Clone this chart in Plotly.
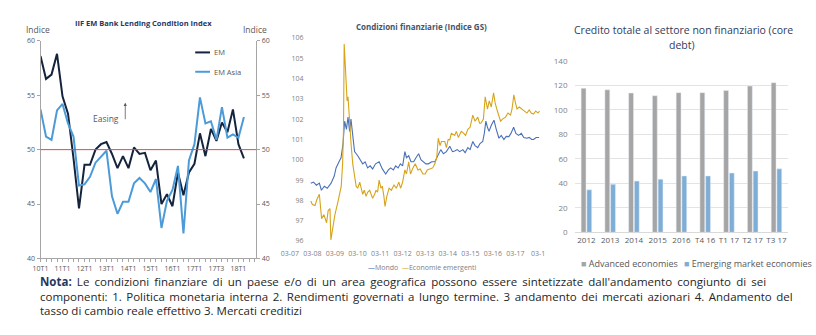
import plotly.graph_objects as go

W, H = 816, 335
FONT = "Open Sans"
GREY_TXT = "#595959"
AXIS_GREY = "#A6A6A6"

# ---------------- IIF EM Bank Lending Condition Index ----------------
blc_idx = list(range(38))
blc_em = [58.6, 56.5, 56.9, 58.8, 54.9, 53.3, 49.2, 44.6, 48.6, 48.6,
          50.0, 50.5, 50.7, 49.6, 48.3, 49.4, 48.3, 50.2, 49.6, 49.7,
          48.1, 49.0, 45.0, 45.9, 44.8, 47.9, 45.8, 47.9, 48.7, 51.5,
          49.4, 51.9, 50.8, 52.5, 51.6, 53.7, 50.5, 49.2]
blc_em_asia = [53.7, 51.2, 50.9, 53.6, 54.2, 52.4, 51.2, 46.7, 46.8, 47.5,
               48.8, 49.4, 49.9, 45.7, 44.1, 45.2, 45.2, 46.9, 47.4, 46.9,
               46.1, 47.3, 42.8, 45.3, 46.3, 48.5, 42.3, 49.0, 50.5, 54.8,
               52.4, 52.6, 50.9, 53.9, 51.1, 51.4, 51.1, 53.0]
blc_tick_pos = [0, 4, 8, 12, 16, 20, 24, 28, 32, 36]
blc_tick_text = ["10T1", "11T1", "12T1", "13T1", "14T1", "15T1", "16T1",
                 "17T1", "17T3", "18T1"]
blc_neutral = 50

# ---------------- Condizioni finanziarie (Indice GS) ----------------
gs_world_t = [
    2007.93, 2008.05, 2008.18, 2008.31, 2008.40, 2008.53, 2008.66, 2008.83,
    2008.97, 2009.05, 2009.18, 2009.27, 2009.36, 2009.43, 2009.51, 2009.58,
    2009.65, 2009.71, 2009.79, 2009.87, 2010.01, 2010.12, 2010.23, 2010.34,
    2010.45, 2010.56, 2010.67, 2010.80, 2010.96, 2011.10, 2011.25, 2011.37,
    2011.47, 2011.59, 2011.69, 2011.80, 2011.90, 2012.00, 2012.10, 2012.17,
    2012.27, 2012.37, 2012.49, 2012.59, 2012.71, 2012.81, 2012.93, 2013.03,
    2013.14, 2013.29, 2013.43, 2013.55, 2013.69, 2013.81, 2013.94, 2014.09,
    2014.21, 2014.31, 2014.42, 2014.53, 2014.67, 2014.77, 2014.89, 2014.99,
    2015.11, 2015.21, 2015.33, 2015.43, 2015.55, 2015.62, 2015.69, 2015.76,
    2015.83, 2015.93, 2016.05, 2016.15, 2016.27, 2016.37, 2016.49, 2016.59,
    2016.71, 2016.80, 2016.92, 2017.02, 2017.14, 2017.26, 2017.37, 2017.51,
    2017.61, 2017.72, 2017.80, 2017.92, 2018.05]
gs_world = [
    98.84, 98.9, 98.75, 98.85, 98.5, 98.7, 98.6, 98.85,
    99.2, 99.6, 99.9, 100.1, 100.8, 101.9, 101.5, 102.1,
    101.4, 102.0, 101.2, 100.4, 100.2, 100.0, 99.8, 99.9,
    99.6, 99.7, 99.55, 99.8, 99.9, 99.55, 99.3, 99.5,
    99.6, 99.5, 99.7, 99.6, 99.8, 99.7, 100.4, 100.1,
    100.2, 99.9, 99.9, 100.1, 100.3, 100.0, 99.9, 99.8,
    99.8, 99.9, 99.9, 100.2, 100.5, 100.3, 100.4, 100.67,
    100.4, 100.43, 100.5, 100.4, 100.5, 100.35, 100.6, 100.5,
    100.9, 100.7, 100.6, 100.8, 100.9, 101.3, 101.9, 101.6,
    101.4, 101.7, 101.95, 101.5, 101.06, 101.2, 101.0, 101.15,
    101.14, 101.3, 101.6, 101.3, 101.2, 101.3, 101.1, 101.06,
    101.1, 101.0, 101.0, 101.1, 101.1]

gs_em_t = [
    2007.93, 2008.00, 2008.12, 2008.20, 2008.31, 2008.41, 2008.51, 2008.63,
    2008.70, 2008.78, 2008.82, 2008.90, 2009.00, 2009.14, 2009.28, 2009.34,
    2009.38, 2009.41, 2009.45, 2009.50, 2009.54, 2009.58, 2009.65, 2009.72,
    2009.79, 2009.87, 2009.94, 2010.01, 2010.10, 2010.23, 2010.30, 2010.38,
    2010.45, 2010.54, 2010.67, 2010.76, 2010.82, 2010.89, 2010.96, 2011.04,
    2011.10, 2011.17, 2011.22, 2011.30, 2011.40, 2011.50, 2011.62, 2011.72,
    2011.83, 2011.91, 2012.00, 2012.10, 2012.17, 2012.27, 2012.35, 2012.46,
    2012.56, 2012.68, 2012.78, 2012.90, 2013.00, 2013.09, 2013.21, 2013.33,
    2013.43, 2013.51, 2013.58, 2013.66, 2013.72, 2013.87, 2013.94, 2014.02,
    2014.09, 2014.16, 2014.31, 2014.38, 2014.47, 2014.60, 2014.71, 2014.79,
    2014.89, 2014.99, 2015.11, 2015.21, 2015.33, 2015.41, 2015.47, 2015.58,
    2015.66, 2015.71, 2015.76, 2015.84, 2015.93, 2016.03, 2016.10, 2016.20,
    2016.27, 2016.34, 2016.43, 2016.56, 2016.67, 2016.78, 2016.85, 2016.93,
    2017.00, 2017.07, 2017.17, 2017.29, 2017.39, 2017.51, 2017.61, 2017.70,
    2017.80, 2017.90, 2018.00, 2018.07]
gs_em = [
    97.97, 97.8, 97.75, 98.05, 98.3, 97.1, 97.3, 96.9,
    97.5, 97.6, 96.06, 96.6, 97.3, 97.97, 98.7, 99.8,
    101.5, 105.7, 104.8, 104.2, 102.9, 103.1, 101.7, 100.7,
    99.8, 99.3, 98.7, 98.6, 98.9, 98.3, 98.5, 98.2,
    98.4, 98.5, 98.1, 98.3, 98.5, 98.4, 99.0, 98.6,
    98.7, 98.2, 97.7, 98.2, 98.6, 98.5, 98.76, 98.6,
    98.9, 98.6, 98.9, 99.5, 99.3, 99.9, 99.3, 99.6,
    99.8, 99.5, 99.55, 99.3, 99.3, 99.5, 99.55, 99.6,
    99.8, 100.1, 101.06, 100.7, 100.9, 100.9, 100.6, 101.0,
    100.98, 101.3, 101.2, 101.4, 101.1, 101.4, 101.3, 101.2,
    101.5, 101.6, 102.2, 101.9, 102.1, 101.8, 101.8, 102.0,
    103.1, 102.7, 102.5, 102.9, 102.6, 103.3, 102.8, 102.4,
    102.2, 101.9, 102.0, 102.1, 102.3, 102.2, 102.5, 103.2,
    102.8, 102.5, 102.6, 102.5, 102.4, 102.3, 102.45, 102.3,
    102.25, 102.4, 102.3, 102.4]
gs_tick_years = list(range(2007, 2019))
gs_tick_text = ["03-07", "03-08", "03-09", "03-10", "03-11", "03-12",
                "03-13", "03-14", "03-15", "03-16", "03-17", "03-1"]

# ---------------- Credito totale al settore non finanziario ----------------
cd_periods = ["2012", "2013", "2014", "2015", "2016", "T4 16", "T1 17", "T2 17", "T3 17"]
cd_advanced = [117.6, 116.3, 113.7, 111.5, 114.0, 114.0, 115.8, 119.4, 122.1]
cd_emerging = [34.7, 39.2, 41.8, 43.4, 46.0, 46.0, 48.4, 50.0, 51.8]


def px_x(p):
    return p / W


def px_y(p):
    return 1 - p / H


fig = go.Figure()

# chart 1 lines
fig.add_trace(go.Scatter(x=blc_idx, y=blc_em, mode="lines", name="EM",
                         line=dict(color="#14243D", width=2), xaxis="x", yaxis="y",
                         showlegend=False))
fig.add_trace(go.Scatter(x=blc_idx, y=blc_em_asia, mode="lines", name="EM Asia",
                         line=dict(color="#4C9BD8", width=2), xaxis="x", yaxis="y",
                         showlegend=False))
# invisible twin used for the right-hand scale
fig.add_trace(go.Scatter(x=blc_idx, y=blc_em, mode="lines", line=dict(width=0),
                         opacity=0, hoverinfo="skip", xaxis="x", yaxis="y2",
                         showlegend=False))

# chart 2 lines
fig.add_trace(go.Scatter(x=gs_world_t, y=gs_world, mode="lines", name="Mondo",
                         line=dict(color="#4A70B8", width=1.1), xaxis="x2", yaxis="y3",
                         showlegend=False))
fig.add_trace(go.Scatter(x=gs_em_t, y=gs_em, mode="lines", name="Economie emergenti",
                         line=dict(color="#D6A31A", width=1.1), xaxis="x2", yaxis="y3",
                         showlegend=False))

# chart 3 bars
fig.add_trace(go.Bar(x=cd_periods, y=cd_advanced, name="Advanced economies",
                     marker_color="#A5A5A5", xaxis="x3", yaxis="y4", showlegend=False))
fig.add_trace(go.Bar(x=cd_periods, y=cd_emerging, name="Emerging market economies",
                     marker_color="#7EAED6", xaxis="x3", yaxis="y4", showlegend=False))

tick_small = dict(family=FONT, size=7, color=GREY_TXT)

c1_x = [px_x(33), px_x(252)]
c1_y = [px_y(261), px_y(36)]
c2_x = [px_x(282), px_x(541)]
c2_y = [px_y(243), px_y(33)]
c3_x = [px_x(575), px_x(792)]
c3_y = [px_y(234), px_y(56.7)]

blc_all_ticks = list(range(0, 40))
blc_all_text = [blc_tick_text[blc_tick_pos.index(i)] if i in blc_tick_pos else ""
                for i in blc_all_ticks]

fig.update_layout(
    width=W, height=H, margin=dict(l=0, r=0, t=0, b=0),
    paper_bgcolor="white", plot_bgcolor="rgba(0,0,0,0)",
    font=dict(family=FONT, color=GREY_TXT),
    barmode="group", bargap=0.52, bargroupgap=0.15,
    xaxis=dict(domain=c1_x, range=[0, 39.25], anchor="y",
               tickmode="array", tickvals=blc_all_ticks, ticktext=blc_all_text,
               ticks="outside", ticklen=3, tickcolor=AXIS_GREY, tickfont=tick_small,
               showline=True, linecolor=AXIS_GREY, linewidth=1,
               showgrid=False, zeroline=False),
    yaxis=dict(domain=c1_y, range=[40, 60], anchor="x",
               tickvals=[40, 45, 50, 55, 60], ticks="outside", ticklen=3,
               tickcolor=AXIS_GREY, tickfont=tick_small,
               showline=True, linecolor=AXIS_GREY, linewidth=1,
               showgrid=False, zeroline=False),
    yaxis2=dict(domain=c1_y, range=[40, 60], anchor="x", overlaying="y", side="right",
                tickvals=[40, 45, 50, 55, 60], ticks="outside", ticklen=3,
                tickcolor=AXIS_GREY, tickfont=tick_small,
                showline=True, linecolor=AXIS_GREY, linewidth=1,
                showgrid=False, zeroline=False),
    xaxis2=dict(domain=c2_x, range=[2006.825, 2018.135], anchor="y3",
                tickmode="array", tickvals=gs_tick_years, ticktext=gs_tick_text,
                ticks="outside", ticklen=6, tickcolor="rgba(0,0,0,0)",
                tickfont=dict(family=FONT, size=7, color="#7F7F7F"),
                showline=False, showgrid=False, zeroline=False),
    yaxis3=dict(domain=c2_y, range=[96, 106], anchor="free", position=px_x(300),
                dtick=1, ticks="", tickfont=dict(family=FONT, size=7, color="#7F7F7F"),
                showline=False, showgrid=False, zeroline=False),
    xaxis3=dict(domain=c3_x, anchor="y4", type="category",
                tickfont=dict(family=FONT, size=8, color=GREY_TXT),
                showline=True, linecolor="#D9D9D9", showgrid=False, ticks=""),
    yaxis4=dict(domain=c3_y, range=[0, 140], anchor="x3", dtick=20,
                tickfont=dict(family=FONT, size=8, color="#7F7F7F"),
                showgrid=True, gridcolor="#E3E3E3", gridwidth=1,
                showline=False, zeroline=False, ticks="", ticklabelstandoff=6),
)

# reference line at the neutral 50 level
fig.add_shape(type="line", xref="x domain", yref="y", x0=0, x1=1,
              y0=blc_neutral, y1=blc_neutral, line=dict(color="#E0474C", width=1))

ann = []


def text(x, y, s, size, color=GREY_TXT, anchor="center", bold=False, yanchor="middle"):
    ann.append(dict(xref="paper", yref="paper", x=px_x(x), y=px_y(y),
                    text=f"<b>{s}</b>" if bold else s, showarrow=False,
                    xanchor=anchor, yanchor=yanchor,
                    font=dict(family=FONT, size=size, color=color)))


# chart 1 texts
text(138, 18, "IIF EM Bank Lending Condition Index", 7.5, "#1F3864", bold=True)
text(30, 24, "Indice", 8.5)
text(251, 24, "Indice", 8.5)
text(207, 48, "EM", 7.5, anchor="left")
text(207, 68, "EM Asia", 7.5, anchor="left")
text(115, 116, "Easing", 8.5, anchor="right")
ann.append(dict(xref="paper", yref="paper", x=px_x(119), y=px_y(100),
                ax=0, ay=18, text="", showarrow=True, arrowhead=2, arrowsize=0.8,
                arrowwidth=0.8, arrowcolor=GREY_TXT))

# chart 1 legend swatches
fig.add_shape(type="line", xref="paper", yref="paper", x0=px_x(190), x1=px_x(205),
              y0=px_y(48), y1=px_y(48), line=dict(color="#14243D", width=2))
fig.add_shape(type="line", xref="paper", yref="paper", x0=px_x(190), x1=px_x(205),
              y0=px_y(68), y1=px_y(68), line=dict(color="#4C9BD8", width=2))

# chart 2 texts
text(420, 21, "Condizioni finanziarie (Indice GS)", 8, "#44546A", bold=True)
text(421, 270, "<span style='color:#4A70B8'>—</span>Mondo  "
               "<span style='color:#D6A31A'>—</span>Economie emergenti", 7, "#7F7F7F")

# chart 3 texts
text(686, 25, "Credito totale al settore non finanziario (core", 10.5, "#2F3D5C")
text(684, 40, "debt)", 10.5, "#2F3D5C")
text(580, 266, "<span style='color:#A5A5A5'>■</span> Advanced economies", 9, anchor="left")
text(684, 266, "<span style='color:#7EAED6'>■</span> Emerging market economies", 9, anchor="left")

# note (first two lines justified through extra word spacing)
text(30, 285, "<span style='word-spacing:2.2px'><b><span style='color:#1F3864'>Nota:</span></b> "
              "Le condizioni finanziare di un paese e/o di un area "
              "geografica possono essere sintetizzate dall'andamento congiunto di sei</span>", 11.5,
     "#262626", anchor="left")
text(30, 300, "<span style='word-spacing:1.55px'>componenti: 1. Politica monetaria interna "
              "2. Rendimenti governati a lungo termine. "
              "3 andamento dei mercati azionari 4. Andamento del</span>", 11.5, "#262626",
     anchor="left")
text(30, 315, "tasso di cambio reale effettivo 3. Mercati creditizi", 11.5, "#262626", anchor="left")

fig.update_layout(annotations=ann)
fig.write_html("out.html")
